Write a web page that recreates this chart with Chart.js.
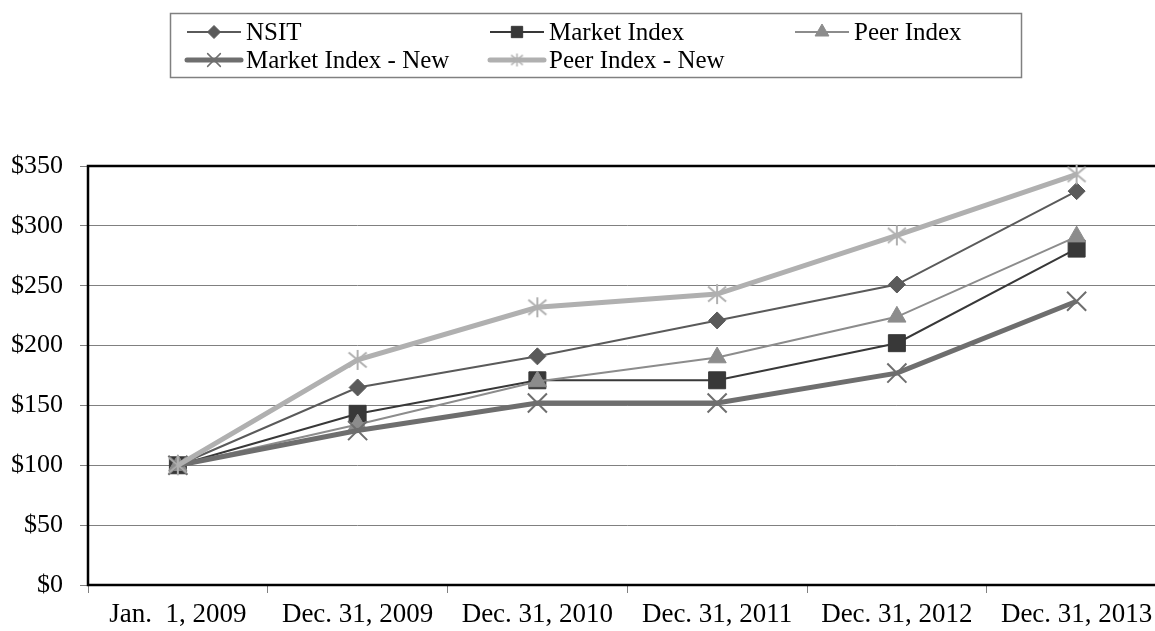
<!DOCTYPE html>
<html>
<head>
<meta charset="utf-8">
<script src="https://cdn.jsdelivr.net/npm/chart.js@4/dist/chart.umd.min.js"></script>
<style>
  html, body { margin: 0; padding: 0; background: #fff; overflow: hidden; }
  #wrap { position: relative; width: 1182px; height: 631px; }
  #c { display: block; width: 1182px; height: 631px; }
</style>
</head>
<body>
<div id="wrap"><canvas id="c" width="1182" height="631"></canvas></div>
<script>
// ---- data ----
const categories = ['Jan.  1, 2009', 'Dec. 31, 2009', 'Dec. 31, 2010', 'Dec. 31, 2011', 'Dec. 31, 2012', 'Dec. 31, 2013'];
const seriesNames = ['NSIT', 'Market Index', 'Peer Index', 'Market Index - New', 'Peer Index - New'];
const nsit = [100, 165, 191, 221, 251, 329];
const marketIndex = [100, 143, 171, 171, 202, 281];
const peerIndex = [100, 134, 170, 190, 224, 291];
const marketIndexNew = [100, 129, 152, 152, 177, 237];
const peerIndexNew = [100, 188, 232, 243, 292, 343];
const yTicks = [0, 50, 100, 150, 200, 250, 300, 350];

const FONT = 'Liberation Serif, Times New Roman, serif';

// asterisk marker (vertical + X), like the original spreadsheet style
function asterisk(size, color, lw) {
  const c = document.createElement('canvas');
  c.width = size; c.height = size;
  const g = c.getContext('2d');
  g.strokeStyle = color; g.lineWidth = lw; g.lineCap = 'butt';
  const m = size / 2, r = size / 2 - 1, dx = r * 0.9, dy = r * 0.75;
  g.beginPath();
  g.moveTo(m, m - r); g.lineTo(m, m + r);
  g.moveTo(m - dx, m - dy); g.lineTo(m + dx, m + dy);
  g.moveTo(m - dx, m + dy); g.lineTo(m + dx, m - dy);
  g.stroke();
  return c;
}
const starBig = asterisk(22, '#b0b0b0', 2);
const starSmall = asterisk(15, '#b0b0b0', 1.5);

// legend placement (styling only)
const legendPos = [
  { x: 187, y: 32 }, { x: 490, y: 32 }, { x: 795, y: 32 },
  { x: 187, y: 60 }, { x: 490, y: 60 }
];

const customLegend = {
  id: 'customLegend',
  afterDraw(chart) {
    const ctx = chart.ctx;
    ctx.save();
    ctx.strokeStyle = '#808080';
    ctx.lineWidth = 1.5;
    ctx.strokeRect(170.5, 13.5, 851, 64);
    chart.data.datasets.forEach((ds, i) => {
      const p = legendPos[i];
      const x0 = p.x, x1 = p.x + 54, y = p.y;
      ctx.save();
      ctx.beginPath();
      ctx.strokeStyle = ds.borderColor;
      ctx.lineWidth = ds.borderWidth;
      ctx.lineCap = ds.borderWidth > 3 ? 'round' : 'butt';
      ctx.moveTo(x0, y); ctx.lineTo(x1, y);
      ctx.stroke();
      ctx.fillStyle = ds.pointBackgroundColor;
      ctx.strokeStyle = ds.pointBorderColor;
      ctx.lineWidth = ds.legendBorder;
      Chart.helpers.drawPoint(ctx, {
        pointStyle: ds.legendStyle || ds.pointStyle,
        radius: ds.legendRadius,
        borderWidth: ds.legendBorder,
        rotation: 0
      }, (x0 + x1) / 2, y);
      ctx.restore();
      ctx.fillStyle = '#000';
      ctx.font = '25px ' + FONT;
      ctx.textBaseline = 'middle';
      ctx.textAlign = 'left';
      ctx.fillText(ds.label, x1 + 5, y + 1);
    });
    ctx.restore();
  }
};

const frame = {
  id: 'frame',
  beforeDatasetsDraw(chart) {
    const a = chart.chartArea, ctx = chart.ctx;
    ctx.save();
    ctx.strokeStyle = '#000';
    ctx.lineWidth = 2.5;
    ctx.strokeRect(a.left, a.top, a.right - a.left, a.bottom - a.top);
    ctx.restore();
  }
};

function mk(label, data, color, width, style, radius, legendRadius, fill, order) {
  return {
    label, data,
    borderColor: color, borderWidth: width,
    pointStyle: style, pointRadius: radius, pointHoverRadius: radius,
    pointBackgroundColor: fill ? color : 'rgba(0,0,0,0)',
    pointBorderColor: color, pointBorderWidth: fill ? 1 : 2,
    legendRadius, legendBorder: fill ? 1 : 1.5, tension: 0, clip: false, order
  };
}

const dsStarNew = mk(seriesNames[4], peerIndexNew, '#b0b0b0', 5, starBig, 11, 8, false, 1);
dsStarNew.legendStyle = starSmall;

new Chart(document.getElementById('c'), {
  type: 'line',
  data: {
    labels: categories,
    datasets: [
      mk(seriesNames[0], nsit, '#5a5a5a', 2, 'rectRot', 8.5, 6.5, true, 5),
      mk(seriesNames[1], marketIndex, '#383838', 2, 'rect', 12, 8, true, 4),
      mk(seriesNames[2], peerIndex, '#8c8c8c', 2, 'triangle', 10.5, 8, true, 3),
      mk(seriesNames[3], marketIndexNew, '#6e6e6e', 5, 'crossRot', 13.5, 9, false, 2),
      dsStarNew
    ]
  },
  options: {
    responsive: false,
    maintainAspectRatio: false,
    devicePixelRatio: 1,
    animation: false,
    layout: { padding: { top: 166, left: 11, right: 0, bottom: 0 } },
    plugins: { legend: { display: false }, tooltip: { enabled: false } },
    scales: {
      x: {
        offset: true,
        afterFit(s) { s.height = 46; s.paddingLeft = 0; s.paddingRight = 0; },
        grid: { display: true, offset: true, drawOnChartArea: false, drawTicks: true, tickLength: 8, color: '#808080', tickColor: '#808080' },
        border: { display: false },
        ticks: { color: '#000', font: { family: FONT, size: 27, lineHeight: 1.1 }, padding: 7, maxRotation: 0, autoSkip: false }
      },
      y: {
        min: yTicks[0], max: yTicks[yTicks.length - 1],
        afterBuildTicks(scale) { scale.ticks = yTicks.map(v => ({ value: v })); },
        afterFit(s) { s.width = 77; },
        grid: { color: '#808080', lineWidth: 1, tickLength: 8, tickColor: '#808080' },
        border: { display: false },
        ticks: { color: '#000', font: { family: FONT, size: 26 }, padding: 17, callback: v => '$' + v }
      }
    }
  },
  plugins: [frame, customLegend]
});
</script>
</body>
</html>
